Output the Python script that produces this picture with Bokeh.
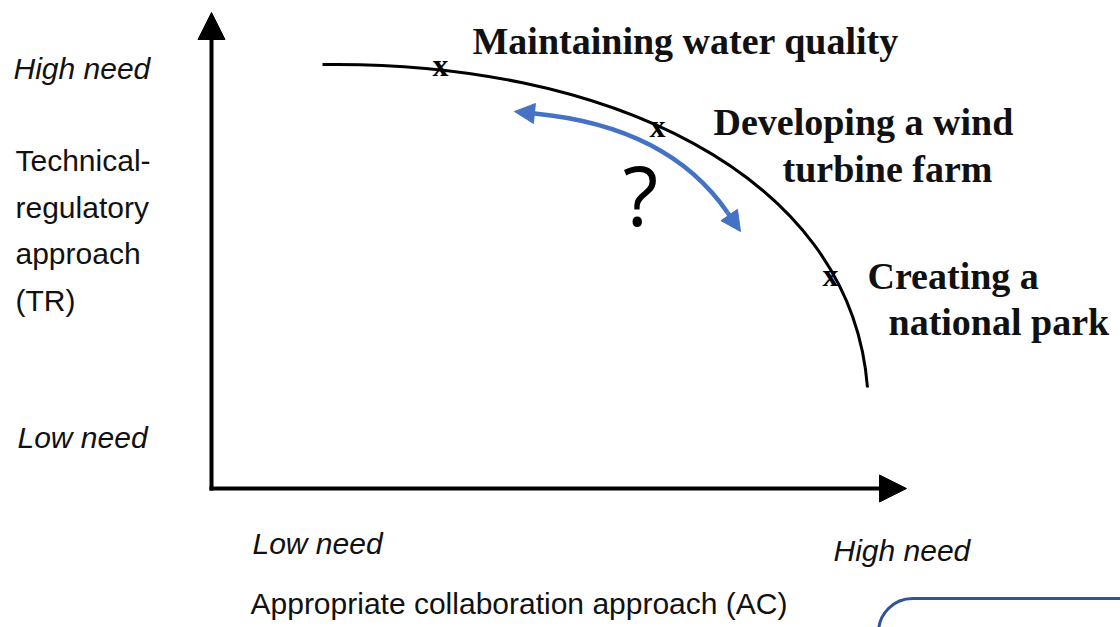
from bokeh.plotting import figure
from bokeh.models import Range1d, Arrow, NormalHead, BoxAnnotation
from bokeh.core.properties import value
from bokeh.embed import file_html
from bokeh.resources import INLINE

# ---- data (diagram coordinates; y grows downward) ----
# frontier curve (cubic Bezier: end points and control points)
frontier_x0, frontier_y0 = [322], [64]
frontier_cx0, frontier_cy0 = [600], [60]
frontier_cx1, frontier_cy1 = [850], [170]
frontier_x1, frontier_y1 = [867], [387]

# case markers on the frontier
case_x = [440, 657, 830]
case_y = [64, 125, 274]

# case labels (serif bold), visual centre of each line
case_labels = ["Maintaining water quality", "Developing a wind", "turbine farm",
               "Creating a", "national park"]
case_label_x = [472, 713, 782, 867, 888]
case_label_y = [40, 121, 168, 275, 321]

# blue double arrow (quadratic shaft + two heads)
shift_x0, shift_y0 = [534], [113]
shift_cx, shift_cy = [668], [126]
shift_x1, shift_y1 = [727], [212]
shift_tip_x = [514, 740]
shift_tip_y = [111, 231]

# "?" mark
question_x, question_y = [640], [193]

# axes
origin_x, origin_y = 211, 488
y_axis_tip_y = 12
x_axis_tip_x = 906

# axis labels
need_labels = ["High need", "Low need", "Low need", "High need"]
need_x = [13, 17, 252, 833]
need_y = [68, 437, 543, 550]

tr_lines = ["Technical-", "regulatory", "approach", "(TR)"]
tr_x = [15, 15, 15, 15]
tr_y = [160, 207, 253, 300]

ac_label = ["Appropriate collaboration approach (AC)"]
ac_x = [250]
ac_y = [603]

# ---- figure ----
p = figure(width=1120, height=627, output_backend="svg", toolbar_location=None,
           x_range=Range1d(0, 1120), y_range=Range1d(627, 0), min_border=0)
p.axis.visible = False
p.grid.visible = False
p.outline_line_color = None
p.background_fill_color = "white"
p.border_fill_color = "white"

# axes arrows
p.add_layout(Arrow(x_start=origin_x, y_start=origin_y + 2, x_end=origin_x, y_end=y_axis_tip_y,
                   line_width=4, line_color="black",
                   end=NormalHead(size=27, fill_color="black", line_color="black", line_width=1)))
p.add_layout(Arrow(x_start=origin_x - 2, y_start=origin_y, x_end=x_axis_tip_x, y_end=origin_y,
                   line_width=4, line_color="black",
                   end=NormalHead(size=27, fill_color="black", line_color="black", line_width=1)))

# frontier curve
p.bezier(x0=frontier_x0, y0=frontier_y0, x1=frontier_x1, y1=frontier_y1,
         cx0=frontier_cx0, cy0=frontier_cy0, cx1=frontier_cx1, cy1=frontier_cy1,
         line_width=3, line_color="black")

# case markers
p.text(case_x, case_y, text=["x"] * len(case_x), text_font=value("Liberation Serif"),
       text_font_style="bold", text_font_size="32px", text_align="center",
       text_baseline="middle", text_color="black")

# case labels
p.text(case_label_x, case_label_y, text=case_labels, text_font=value("Liberation Serif"),
       text_font_style="bold", text_font_size="38px", text_align="left",
       text_baseline="middle", text_color="#111111")

# blue double arrow
blue = "#4472C4"
p.quadratic(x0=shift_x0, y0=shift_y0, x1=shift_x1, y1=shift_y1, cx=shift_cx, cy=shift_cy,
            line_width=4.5, line_color=blue)
p.add_layout(Arrow(x_start=shift_x0[0], y_start=shift_y0[0], x_end=shift_tip_x[0], y_end=shift_tip_y[0],
                   line_width=4.5, line_color=blue,
                   end=NormalHead(size=20, fill_color=blue, line_color=blue, line_width=1)))
p.add_layout(Arrow(x_start=shift_x1[0], y_start=shift_y1[0], x_end=shift_tip_x[1], y_end=shift_tip_y[1],
                   line_width=4.5, line_color=blue,
                   end=NormalHead(size=20, fill_color=blue, line_color=blue, line_width=1)))

# question mark
p.text(question_x, question_y, text=["?"], text_font=value("Open Sans"), text_font_size="82px",
       text_align="center", text_baseline="middle", text_color="black")

# axis labels
p.text(need_x, need_y, text=need_labels, text_font=value("Liberation Sans"),
       text_font_style="italic", text_font_size="30px", text_align="left",
       text_baseline="middle", text_color="#111111")
p.text(tr_x, tr_y, text=tr_lines, text_font=value("Liberation Sans"),
       text_font_size="30px", text_align="left", text_baseline="middle", text_color="#111111")
p.text(ac_x, ac_y, text=ac_label, text_font=value("Liberation Sans"),
       text_font_size="30px", text_align="left", text_baseline="middle", text_color="#111111")

# rounded box fragment at bottom right
p.add_layout(BoxAnnotation(left=878, right=1300, top=598, bottom=720, border_radius=34,
                           fill_alpha=0, line_color="#2F5597", line_width=3, line_alpha=1))

open("out.html", "w").write(file_html(p, INLINE))
